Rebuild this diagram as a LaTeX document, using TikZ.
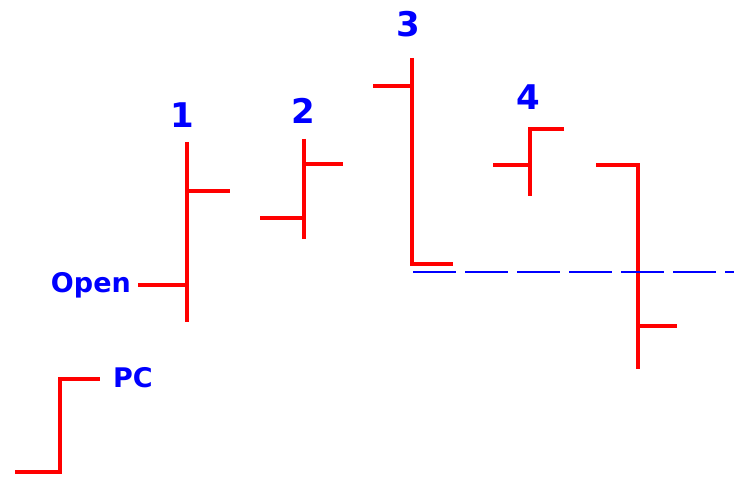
\documentclass[tikz,border=0pt]{standalone}
\usepackage{fontspec}
\setmainfont{DejaVu Sans}
\begin{document}
\begin{tikzpicture}[x=1pt,y=-1pt,
  bar/.style={draw=red,line width=3.8pt,miter limit=10},
  lvl/.style={draw=blue,line width=2.2pt,dash pattern=on 43pt off 9pt},
  num/.style={text=blue,font=\bfseries\fontsize{34}{34}\selectfont,inner sep=0pt,anchor=base},
  lbl/.style={text=blue,font=\bfseries\fontsize{27}{27}\selectfont,inner sep=0pt,anchor=base}]
\useasboundingbox (0,0) rectangle (734,478);
% bar 1
\coordinate (h1) at (187,142); \coordinate (l1) at (187,322);
\coordinate (o1) at (138,285); \coordinate (c1) at (230,191);
\draw[bar] (h1) -- (l1);
\draw[bar] (o1) -- (o1 -| h1);
\draw[bar] (c1 -| h1) -- (c1);
% bar 2
\coordinate (h2) at (304,139); \coordinate (l2) at (304,239);
\coordinate (o2) at (260,218); \coordinate (c2) at (343,164);
\draw[bar] (h2) -- (l2);
\draw[bar] (o2) -- (o2 -| h2);
\draw[bar] (c2 -| h2) -- (c2);
% bar 3
\coordinate (h3) at (412,58); \coordinate (o3) at (373,86);
\coordinate (c3) at (453,264);
\draw[bar] (o3) -- (o3 -| h3);
\draw[bar] (h3) -- (c3 -| h3) -- (c3);
% bar 4
\coordinate (c4) at (564,129); \coordinate (l4) at (530,196);
\coordinate (o4) at (493,165);
\draw[bar] (c4) -- (c4 -| l4) -- (l4);
\draw[bar] (o4) -- (o4 -| l4);
% bar 5
\coordinate (o5) at (596,165); \coordinate (l5) at (638,369);
\coordinate (c5) at (677,326);
\draw[bar] (o5) -- (o5 -| l5) -- (l5);
\draw[bar] (c5 -| l5) -- (c5);
% PC step
\coordinate (p0) at (15,472); \coordinate (p1) at (60,472);
\coordinate (p2) at (60,379); \coordinate (p3) at (100,379);
\draw[bar] (p0) -- (p1) -- (p2) -- (p3);
% level
\coordinate (d0) at (413,272); \coordinate (d1) at (734,272);
\draw[lvl] (d0) -- (d1);
% labels
\node[num] (n1) at (182,128) {1};
\node[num] (n2) at (303,124) {2};
\node[num] (n3) at (408,37) {3};
\node[num] (n4) at (528,110) {4};
\node[lbl,anchor=base east] (open) at (131,293) {Open};
\node[lbl,anchor=base west] (pc) at (113,388) {PC};
\end{tikzpicture}
\end{document}
